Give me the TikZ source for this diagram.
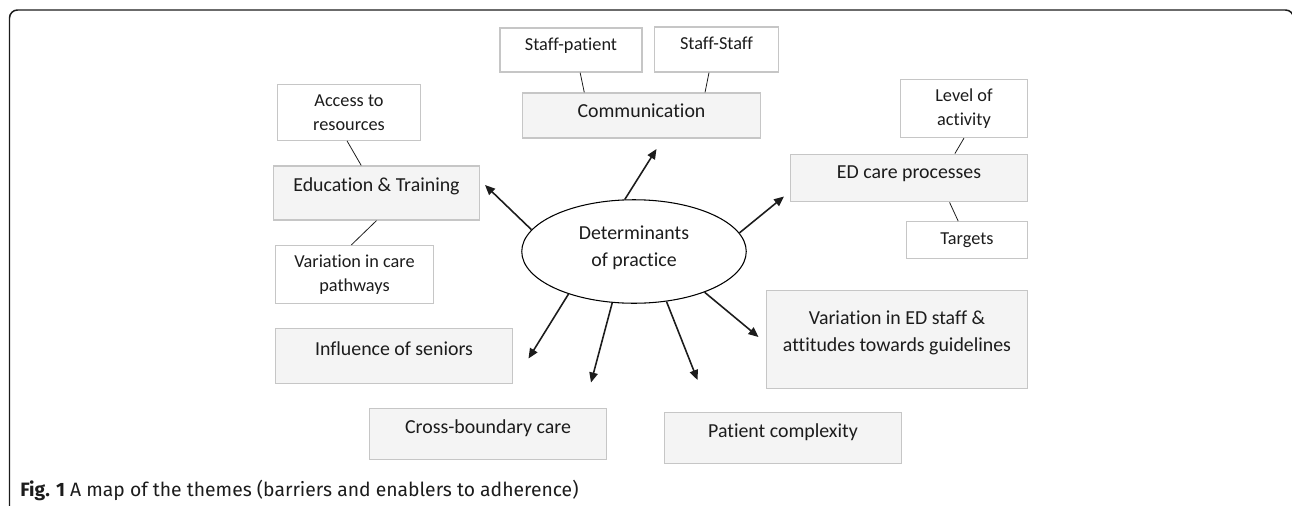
\documentclass[tikz,border=0pt]{standalone}
\usepackage{fontspec}
\setmainfont{Carlito}[Ligatures=NoCommon]
\newfontfamily\capfont{Fira Sans}
\usetikzlibrary{arrows.meta,shapes.geometric}
\definecolor{boxline}{HTML}{C6C6C6}
\definecolor{boxfill}{HTML}{F4F4F4}
\definecolor{ink}{HTML}{1C1C1C}

\begin{document}
\begin{tikzpicture}[
    theme/.style={draw=boxline, fill=boxfill, line width=0.7pt, inner sep=1pt, align=center, text=ink, font=\fontsize{11.3}{15.1}\selectfont},
    subtheme/.style={draw=boxline, fill=white, line width=0.7pt, inner sep=1pt, align=center, text=ink, font=\fontsize{10.4}{13.7}\selectfont},
    link/.style={line width=0.45pt, draw=ink},
    spoke/.style={-{Triangle[length=2mm,width=1.7mm]}, line width=0.9pt, draw=ink},
]
    \useasboundingbox (0,0) rectangle (25.84,-10.1);
    \draw[line width=0.85pt, ink, rounded corners=0.16cm] (0.19,-10.5) -- (0.19,-0.2) -- (25.87,-0.2) -- (25.87,-10.5);

    \node (D) at (12.68,-5.03) [draw, ellipse, line width=0.6pt, minimum width=4.49cm, minimum height=2.07cm, inner sep=0pt, align=center, text=ink, font=\fontsize{11.3}{15.1}\selectfont, text depth=6pt] {Determinants\\of practice};

    \node (C1) at (11.42,-1.00) [subtheme, minimum width=2.84cm, minimum height=0.88cm, text height=7.4pt, text depth=7.4pt] {Staff-patient};
    \node (C2) at (14.33,-0.99) [subtheme, minimum width=2.47cm, minimum height=0.90cm, text height=7.4pt, text depth=7.2pt] {Staff-Staff};
    \node (C) at (12.83,-2.31) [theme, minimum width=4.75cm, minimum height=0.90cm, text height=8pt, text depth=5.2pt] {Communication};

    \node (E1) at (6.98,-2.25) [subtheme, minimum width=2.87cm, minimum height=1.11cm] {Access to\\resources};
    \node (E) at (7.53,-3.86) [theme, minimum width=4.11cm, minimum height=1.08cm, text height=8pt, text depth=10pt] {Education \& Training};
    \node (E2) at (7.09,-5.49) [subtheme, minimum width=3.16cm, minimum height=1.16cm] {Variation in care\\pathways};

    \node (P1) at (19.28,-2.17) [subtheme, minimum width=2.55cm, minimum height=1.16cm] {Level of\\activity};
    \node (P) at (18.18,-3.56) [theme, minimum width=4.74cm, minimum height=0.95cm, text height=8pt, text depth=7.2pt] {ED care processes};
    \node (P2) at (19.34,-4.80) [subtheme, minimum width=2.41cm, minimum height=0.73cm, text height=7.4pt, text depth=2pt] {Targets};

    \node (V) at (17.94,-6.79) [theme, minimum width=5.22cm, minimum height=1.95cm, text depth=9.5pt] {Variation in ED staff \&\\attitudes towards guidelines};
    \node (S) at (7.88,-7.12) [theme, minimum width=4.75cm, minimum height=1.10cm, text height=8pt, text depth=8.8pt] {Influence of seniors};
    \node (B) at (9.76,-8.68) [theme, minimum width=4.75cm, minimum height=1.02cm, text height=8pt, text depth=8.2pt] {Cross-boundary care};
    \node (X) at (15.66,-8.76) [theme, minimum width=4.75cm, minimum height=1.02cm, text height=8pt, text depth=8.2pt] {Patient complexity};

    \node (F) at (0.40,-9.80) [anchor=west, inner sep=0pt, text=ink, font=\capfont\fontsize{11}{13}\selectfont] {\textbf{Fig. 1} A map of the themes (barriers and enablers to adherence)};

    \coordinate (tE) at (9.70,-3.70);
    \coordinate (tC) at (13.13,-2.98);
    \coordinate (tP) at (15.68,-3.93);
    \coordinate (tV) at (15.17,-6.74);
    \coordinate (tX) at (13.95,-7.60);
    \coordinate (tB) at (11.82,-7.65);
    \coordinate (tS) at (10.57,-7.17);

    \draw[link] (C1.-68) -- (C.158.5);
    \draw[link] (C2.-108.7) -- (C.20.6);
    \draw[link] (E1.-94.7) -- (E.119);
    \draw[link] (E.south) -- (E2.96.5);
    \draw[link] (P1.south) -- (P.28.3);
    \draw[link] (P.-31.2) -- (P2.115.4);

    \draw[spoke] (D.168.6) -- (tE);
    \draw[spoke] (D.100.6) -- (tC);
    \draw[spoke] (D.10) -- (tP);
    \draw[spoke] (D.-30.6) -- (tV);
    \draw[spoke] (D.-57.2) -- (tX);
    \draw[spoke] (D.-113.3) -- (tB);
    \draw[spoke] (D.-147.6) -- (tS);
\end{tikzpicture}
\end{document}
